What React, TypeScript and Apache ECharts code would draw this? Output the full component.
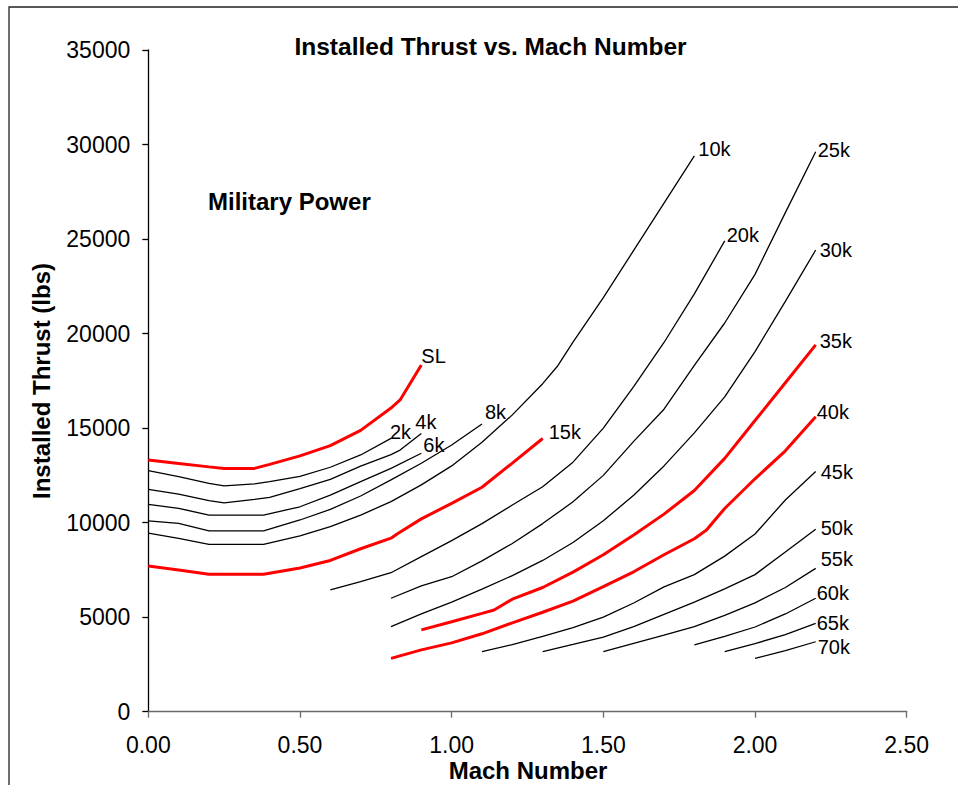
import React, { useEffect, useRef } from "react";
import * as echarts from "echarts";

// Installed thrust (lbs) vs Mach number, one curve per altitude
const SL = [[0, 13310], [0.1, 13130], [0.2, 12950], [0.25, 12870], [0.35, 12870], [0.4, 13080], [0.5, 13530], [0.6, 14070], [0.7, 14880], [0.8, 16060], [0.83, 16490], [0.9, 18340]];
const alt2k = [[0, 12750], [0.1, 12430], [0.2, 12080], [0.25, 11950], [0.35, 12050], [0.4, 12170], [0.5, 12450], [0.6, 12930], [0.7, 13580], [0.8, 14460]];
const alt4k = [[0, 11760], [0.1, 11510], [0.2, 11160], [0.25, 11050], [0.35, 11230], [0.4, 11340], [0.5, 11800], [0.6, 12290], [0.7, 12990], [0.8, 13600], [0.83, 13840], [0.9, 14720]];
const alt6k = [[0, 10970], [0.1, 10760], [0.2, 10400], [0.38, 10400], [0.5, 10840], [0.6, 11460], [0.7, 12170], [0.8, 12870], [0.9, 13670]];
const alt8k = [[0, 10090], [0.1, 9960], [0.2, 9560], [0.38, 9560], [0.5, 10140], [0.6, 10700], [0.7, 11410], [0.8, 12260], [0.9, 13140], [1.0, 14110], [1.1, 15220]];
const alt10k = [[0, 9440], [0.1, 9170], [0.2, 8850], [0.38, 8850], [0.5, 9300], [0.6, 9790], [0.7, 10400], [0.8, 11110], [0.9, 12000], [1.0, 13000], [1.1, 14250], [1.2, 15700], [1.3, 17350], [1.35, 18300], [1.4, 19550], [1.5, 21900], [1.6, 24400], [1.7, 26900], [1.8, 29400]];
const alt15k = [[0, 7710], [0.1, 7500], [0.2, 7270], [0.38, 7270], [0.5, 7600], [0.6, 8000], [0.7, 8620], [0.8, 9180], [0.82, 9400], [0.9, 10200], [1.0, 11020], [1.1, 11870], [1.2, 13150], [1.3, 14450]];
const alt20k = [[0.6, 6440], [0.7, 6880], [0.8, 7350], [0.9, 8200], [1.0, 9050], [1.1, 9950], [1.2, 10930], [1.3, 11900], [1.4, 13200], [1.5, 15000], [1.6, 17200], [1.7, 19530], [1.8, 22100], [1.9, 24900]];
const alt25k = [[0.8, 6000], [0.9, 6650], [1.0, 7140], [1.1, 7980], [1.2, 8900], [1.3, 9950], [1.4, 11100], [1.5, 12500], [1.6, 14300], [1.7, 16000], [1.8, 18320], [1.9, 20560], [2.0, 23130], [2.1, 26400], [2.2, 29620]];
const alt30k = [[0.8, 4500], [0.9, 5170], [1.0, 5800], [1.1, 6480], [1.2, 7200], [1.3, 8000], [1.4, 8950], [1.5, 10100], [1.6, 11450], [1.7, 13000], [1.8, 14750], [1.9, 16650], [2.0, 19050], [2.1, 21700], [2.2, 24420]];
const alt35k = [[0.9, 4330], [1.0, 4760], [1.1, 5200], [1.14, 5380], [1.2, 5950], [1.3, 6570], [1.4, 7380], [1.5, 8300], [1.6, 9350], [1.7, 10450], [1.8, 11700], [1.9, 13400], [2.0, 15400], [2.1, 17400], [2.2, 19400]];
const alt40k = [[0.8, 2820], [0.9, 3270], [1.0, 3640], [1.1, 4120], [1.2, 4700], [1.3, 5260], [1.4, 5850], [1.5, 6620], [1.6, 7400], [1.7, 8300], [1.8, 9150], [1.84, 9610], [1.9, 10750], [2.0, 12320], [2.1, 13800], [2.2, 15600]];
const alt45k = [[1.1, 3175], [1.2, 3550], [1.3, 3980], [1.4, 4450], [1.5, 5000], [1.6, 5750], [1.7, 6600], [1.8, 7250], [1.9, 8230], [2.0, 9400], [2.1, 11200], [2.2, 12700]];
const alt50k = [[1.3, 3175], [1.4, 3560], [1.5, 3950], [1.6, 4500], [1.7, 5150], [1.8, 5800], [1.9, 6500], [2.0, 7250], [2.1, 8450], [2.2, 9650]];
const alt55k = [[1.5, 3175], [1.6, 3620], [1.7, 4050], [1.8, 4500], [1.9, 5100], [2.0, 5760], [2.1, 6570], [2.2, 7580]];
const alt60k = [[1.8, 3530], [1.9, 3980], [2.0, 4480], [2.1, 5170], [2.2, 6000]];
const alt65k = [[1.9, 3175], [2.0, 3600], [2.1, 4080], [2.2, 4670]];
const alt70k = [[2.0, 2820], [2.1, 3230], [2.2, 3700]];

const curveNames = ["SL", "2k", "4k", "6k", "8k", "10k", "15k", "20k", "25k", "30k", "35k", "40k", "45k", "50k", "55k", "60k", "65k", "70k"];
const curveData = [SL, alt2k, alt4k, alt6k, alt8k, alt10k, alt15k, alt20k, alt25k, alt30k, alt35k, alt40k, alt45k, alt50k, alt55k, alt60k, alt65k, alt70k];
const redCurves = ["SL", "15k", "35k", "40k"];
const labelOffsets: Record<string, [number, number]> = {
  SL: [0, -9], "2k": [-1, -6], "4k": [-6, -11], "6k": [2, -8], "8k": [3, -11.5],
  "10k": [4, -7], "15k": [6, -6.5], "20k": [2, -6], "25k": [2, -2], "30k": [4, 0],
  "35k": [4, -4], "40k": [1, -5], "45k": [5, 0], "50k": [5, -1], "55k": [5, -9],
  "60k": [1, -5], "65k": [1, 0], "70k": [2, 5],
};

const FONT = "'Liberation Sans', Arial, sans-serif";

export default function App() {
  const ref = useRef<HTMLDivElement>(null);
  useEffect(() => {
    if (!ref.current) return;
    const chart = echarts.init(ref.current, undefined, { renderer: "svg" });
    const series = curveNames.map((name, i) => {
      const red = redCurves.includes(name);
      return {
        type: "line",
        name,
        data: curveData[i],
        showSymbol: false,
        symbol: "none",
        lineStyle: { color: red ? "#ff0000" : "#000000", width: red ? 3 : 1.3 },
        endLabel: {
          show: true,
          formatter: name,
          distance: 0,
          offset: labelOffsets[name],
          color: "#000",
          fontFamily: FONT,
          fontSize: 20,
        },
        emphasis: { disabled: true },
        z: red ? 3 : 2,
      };
    });
    chart.setOption({
      animation: false,
      backgroundColor: "#fff",
      textStyle: { fontFamily: FONT },
      grid: { left: 148.3, right: 51.3, top: 50, bottom: 73.3, containLabel: false },
      xAxis: {
        type: "value",
        min: 0,
        max: 2.5,
        interval: 0.5,
        splitLine: { show: false },
        axisLine: { show: true, lineStyle: { color: "#6a6a6a", width: 1.3 } },
        axisTick: { show: true, inside: false, length: 6, lineStyle: { color: "#6a6a6a", width: 1.3 } },
        axisLabel: { color: "#000", fontSize: 23, fontFamily: FONT, margin: 22, formatter: (v: number) => v.toFixed(2) },
      },
      yAxis: {
        type: "value",
        min: 0,
        max: 35000,
        interval: 5000,
        splitLine: { show: false },
        axisLine: { show: true, lineStyle: { color: "#000", width: 1.3 } },
        axisTick: { show: true, inside: false, length: 6, lineStyle: { color: "#000", width: 1.3 } },
        axisLabel: { color: "#000", fontSize: 23, fontFamily: FONT, margin: 18, formatter: (v: number) => String(v) },
      },
      series,
      graphic: [
        { type: "rect", shape: { x: 9, y: 7, width: 1200, height: 1200 }, style: { fill: "none", stroke: "#222", lineWidth: 1.3 }, silent: true, z: -1 },
        { type: "text", x: 490.5, y: 46, style: { text: "Installed Thrust vs. Mach Number", fill: "#000", font: `bold 24.5px ${FONT}`, align: "center", verticalAlign: "middle" } },
        { type: "text", x: 208, y: 201, style: { text: "Military Power", fill: "#000", font: `bold 24px ${FONT}`, align: "left", verticalAlign: "middle" } },
        { type: "text", x: 528, y: 770, style: { text: "Mach Number", fill: "#000", font: `bold 24px ${FONT}`, align: "center", verticalAlign: "middle" } },
        { type: "text", x: 41, y: 381, rotation: Math.PI / 2, style: { text: "Installed Thrust (lbs)", fill: "#000", font: `bold 24px ${FONT}`, align: "center", verticalAlign: "middle" } },
      ],
    });
    return () => chart.dispose();
  }, []);
  return <div ref={ref} style={{ position: "fixed", left: 0, top: 0, width: 958, height: 785 }} />;
}
